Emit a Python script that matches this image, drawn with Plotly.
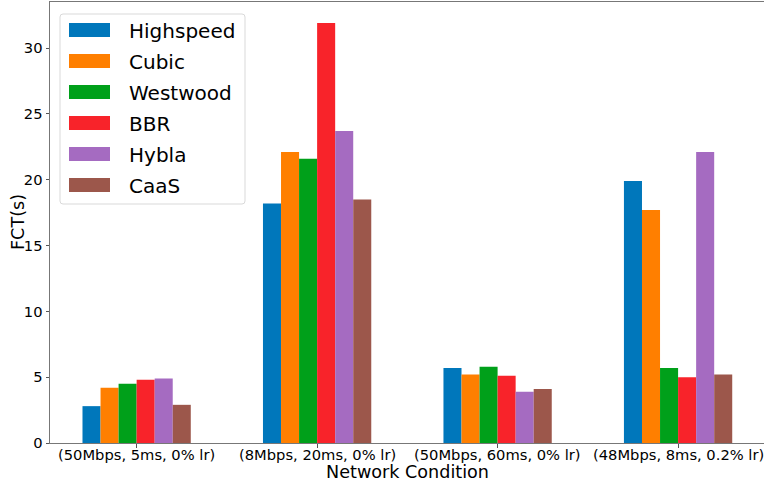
import plotly.graph_objects as go

# Flow completion time per congestion-control algorithm under four network conditions
conditions = ["(50Mbps, 5ms, 0% lr)", "(8Mbps, 20ms, 0% lr)",
              "(50Mbps, 60ms, 0% lr)", "(48Mbps, 8ms, 0.2% lr)"]

highspeed = [2.8, 18.2, 5.7, 19.9]
cubic = [4.2, 22.1, 5.2, 17.7]
westwood = [4.5, 21.6, 5.8, 5.7]
bbr = [4.8, 31.9, 5.1, 5.0]
hybla = [4.9, 23.7, 3.9, 22.1]
caas = [2.9, 18.5, 4.1, 5.2]

names = ["Highspeed", "Cubic", "Westwood", "BBR", "Hybla", "CaaS"]
series = [highspeed, cubic, westwood, bbr, hybla, caas]
colors = ["#0077BB", "#FF7F00", "#00A01A", "#F8232A", "#A56BC1", "#9C574B"]

FONT = "DejaVu Sans"
TICK_SIZE = 14.7
TITLE_SIZE = 17.6
W, H = 764, 485
ML, MR, MT, MB = 50, 0, 2, 42
PW, PH = W - ML - MR, H - MT - MB


def px_x(x):
    return (x - ML) / PW


def px_y(y):
    return (H - MB - y) / PH


fig = go.Figure()
for name, vals, col in zip(names, series, colors):
    fig.add_trace(go.Bar(x=conditions, y=vals, name=name, marker_color=col,
                         marker_line_width=0, showlegend=False))

shapes, annotations = [], []

# Legend panel: rounded frame, wide colour patches and labels
x0, x1, y0, y1, r = 60, 245, 14, 204, 3
frame = (f"M{px_x(x0 + r)},{px_y(y0)} L{px_x(x1 - r)},{px_y(y0)} "
         f"Q{px_x(x1)},{px_y(y0)} {px_x(x1)},{px_y(y0 + r)} "
         f"L{px_x(x1)},{px_y(y1 - r)} Q{px_x(x1)},{px_y(y1)} {px_x(x1 - r)},{px_y(y1)} "
         f"L{px_x(x0 + r)},{px_y(y1)} Q{px_x(x0)},{px_y(y1)} {px_x(x0)},{px_y(y1 - r)} "
         f"L{px_x(x0)},{px_y(y0 + r)} Q{px_x(x0)},{px_y(y0)} {px_x(x0 + r)},{px_y(y0)} Z")
shapes.append(dict(type="path", xref="paper", yref="paper", path=frame,
                   fillcolor="rgba(255,255,255,0.8)", line=dict(color="#d9d9d9", width=1),
                   layer="above"))
for i, (name, col) in enumerate(zip(names, colors)):
    cy = 30 + 31 * i
    shapes.append(dict(type="rect", xref="paper", yref="paper",
                       x0=px_x(69), x1=px_x(110), y0=px_y(cy - 7), y1=px_y(cy + 7),
                       fillcolor=col, line=dict(width=0), layer="above"))
    annotations.append(dict(xref="paper", yref="paper", x=px_x(127), y=px_y(cy + 1),
                            xanchor="left", yanchor="middle", showarrow=False,
                            text=name, font=dict(size=20, family=FONT, color="black")))

# Category labels set close under the axis line
for c in conditions:
    annotations.append(dict(xref="x", yref="paper", x=c, y=0, yanchor="top",
                            yshift=-1, showarrow=False, text=c,
                            font=dict(size=TICK_SIZE, family=FONT, color="black")))

# Axis titles
annotations.append(dict(xref="paper", yref="paper", x=0.5, y=0, yanchor="middle",
                        yshift=-29, showarrow=False, text="Network Condition",
                        font=dict(size=TITLE_SIZE, family=FONT, color="black")))
annotations.append(dict(xref="paper", yref="paper", x=px_x(17.5), y=0.5,
                        xanchor="center", yanchor="middle", textangle=-90,
                        showarrow=False, text="FCT(s)",
                        font=dict(size=TITLE_SIZE, family=FONT, color="black")))

fig.update_layout(
    width=W, height=H,
    margin=dict(l=ML, r=MR, t=MT, b=MB),
    paper_bgcolor="white", plot_bgcolor="white",
    font=dict(family=FONT, color="black"),
    barmode="group", bargap=0.4, bargroupgap=0,
    showlegend=False,
    shapes=shapes, annotations=annotations,
    xaxis=dict(range=[-0.48, 3.476], showgrid=False, zeroline=False,
               showline=True, linecolor="#777", linewidth=1, mirror=True,
               ticks="outside", ticklen=4, tickcolor="#555",
               showticklabels=False),
    yaxis=dict(range=[0, 33.5], showgrid=False, zeroline=False,
               showline=True, linecolor="#777", linewidth=1,
               ticks="outside", ticklen=3.5, tickcolor="#555",
               tickvals=[0, 5, 10, 15, 20, 25, 30],
               tickfont=dict(size=TICK_SIZE)),
)

fig.write_html("out.html")
